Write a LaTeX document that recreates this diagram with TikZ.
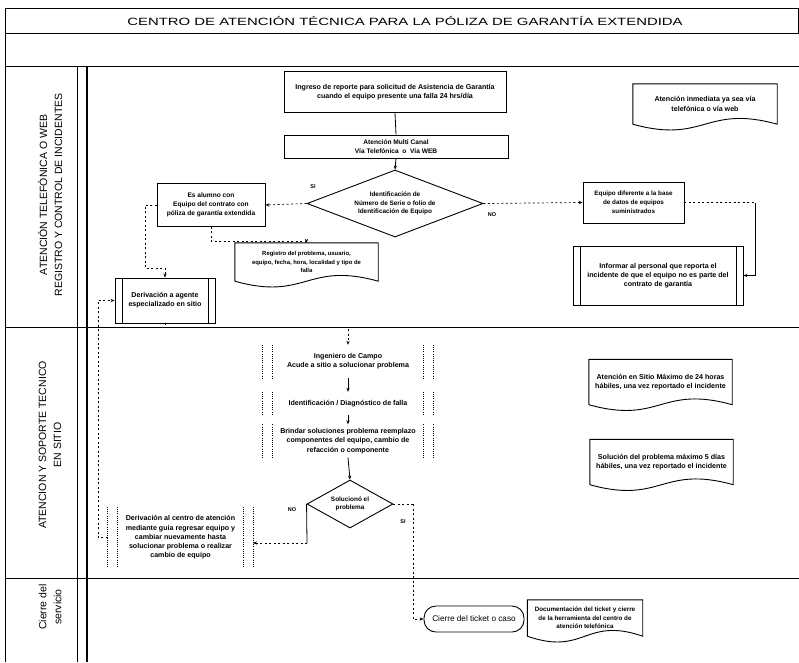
\documentclass[tikz,border=0pt]{standalone}
\usepackage{fontspec}
\setmainfont{Liberation Sans}
\usetikzlibrary{shapes.geometric,calc,arrows.meta}

\tikzset{
  boxline/.style={line width=0.9pt},
  procbox/.style={draw, boxline, rectangle, inner sep=1pt, align=center, font=\smalltxt},
  plain/.style={rectangle, inner sep=1pt, align=center, font=\smalltxt},
  decision/.style={draw, boxline, diamond, inner sep=0pt, align=center, font=\fontsize{6.4}{8.6}\selectfont\bfseries},
  terminal/.style={draw, boxline, rectangle, rounded corners=12pt, inner sep=1pt, align=center, font=\fontsize{8.2}{10}\selectfont},
  lanelabel/.style={rotate=90, align=center, font=\fontsize{10.5}{15}\selectfont},
  yesno/.style={font=\fontsize{5.5}{6}\selectfont\bfseries, inner sep=0pt},
  conn/.style={line width=0.8pt},
  dotconn/.style={line width=0.7pt, dash pattern=on 2pt off 2.5pt},
  sidedots/.style={line width=0.7pt, dash pattern=on 1pt off 1.2pt},
  arr/.style={-{Stealth[length=4pt,width=3.2pt]}},
  laneline/.style={line width=0.8pt},
}
\newcommand\smalltxt{\fontsize{7.1}{9.2}\selectfont\bfseries}
\newcommand\docwave[1]{\draw[boxline] (#1.south west) -- (#1.north west) -- (#1.north east) -- (#1.south east) .. controls ($(#1.south)+(0,-20)$) and ($(#1.south)+(0,20)$) .. (#1.south west);}
\newcommand\predef[1]{\draw[boxline] ($(#1.north west)+(8,0)$) -- ($(#1.south west)+(8,0)$); \draw[boxline] ($(#1.north east)+(-7,0)$) -- ($(#1.south east)+(-7,0)$);}
\newcommand\sideonly[1]{\draw[sidedots] (#1.north west) -- (#1.south west); \draw[sidedots] ($(#1.north west)+(10,0)$) -- ($(#1.south west)+(10,0)$); \draw[sidedots] (#1.north east) -- (#1.south east); \draw[sidedots] ($(#1.north east)+(-10,0)$) -- ($(#1.south east)+(-10,0)$);}

\begin{document}
\begin{tikzpicture}[x=1pt,y=-1pt]
\useasboundingbox (0,0) rectangle (799,662);

% frame and lanes
\draw[laneline] (5,8) rectangle (798,33);
\node (title) at (405,20.5) {\fontsize{10.5}{12}\selectfont\scalebox{1.42}[1]{CENTRO DE ATENCIÓN TÉCNICA PARA LA PÓLIZA DE GARANTÍA EXTENDIDA}};
\draw[laneline] (5,33) -- (5,662);
\draw[laneline] (5,66) -- (799,66);
\draw[laneline] (5,327) -- (799,327);
\draw[laneline] (5,578) -- (799,578);
\draw[laneline] (77,66) -- (77,662);
\draw[line width=1.1pt] (87,66) -- (87,662);

\node[lanelabel] (l1) at (50,195) {ATENCIÓN TELEFÓNICA O WEB\\REGISTRO Y CONTROL DE INCIDENTES};
\node[lanelabel] (l2) at (50,445) {ATENCION Y SOPORTE TECNICO\\EN SITIO};
\node[lanelabel] (l3) at (50,607) {Cierre del\\servicio};

% lane 1
\node[procbox, minimum width=222pt, minimum height=41pt] (n1) at (395,92)
  {Ingreso de reporte para solicitud de Asistencia de Garantía\\cuando el equipo presente una falla 24 hrs/día};
\node[procbox, minimum width=224pt, minimum height=23pt, font=\fontsize{6.6}{8.4}\selectfont\bfseries] (n2) at (396,146.5)
  {Atención Multi Canal\\Vía Telefónica \ o \ Vía WEB};
\node[decision, minimum width=176pt, minimum height=67pt, aspect=2.6] (d1) at (395,203.5)
  {Identificación de\\Número de Serie o folio de\\Identificación de Equipo};
\node[yesno] (si1) at (313,187) {SI};
\node[yesno] (no1) at (492,215) {NO};

\node[procbox, minimum width=108pt, minimum height=43pt, font=\fontsize{6.6}{9.2}\selectfont\bfseries] (esal) at (211,205)
  {Es alumno con\\Equipo del contrato con\\póliza de garantía extendida};
\node[plain, minimum width=143pt, minimum height=38pt, font=\fontsize{5.9}{8.8}\selectfont\bfseries] (reg) at (306.5,262)
  {Registro del problema, usuario,\\equipo, fecha, hora, localidad y tipo de\\falla};
\docwave{reg}
\node[procbox, minimum width=100pt, minimum height=45pt] (dage) at (165,300.5)
  {Derivación a agente\\especializado en sitio};
\predef{dage}

\node[procbox, minimum width=101pt, minimum height=41pt, font=\fontsize{6.3}{9}\selectfont\bfseries] (eqd) at (633.5,202.5)
  {Equipo diferente a la base\\de datos de equipos\\suministrados};
\node[procbox, minimum width=170pt, minimum height=59pt] (inf) at (658,275.5)
  {Informar al personal que reporta el\\incidente de que el equipo no es parte del\\contrato de garantía};
\predef{inf}
\node[plain, minimum width=144pt, minimum height=40pt] (aten) at (705,104)
  {Atención inmediata ya sea vía\\telefónica o vía web};
\docwave{aten}

% lane 2
\node[plain, minimum width=170pt, minimum height=33pt] (ing) at (348,361.5)
  {Ingeniero de Campo\\Acude a sitio a solucionar problema};
\sideonly{ing}
\node[plain, minimum width=170pt, minimum height=23pt] (idn) at (348,403.5)
  {Identificación / Diagnóstico de falla};
\sideonly{idn}
\node[plain, minimum width=170pt, minimum height=33pt] (brd) at (348,441)
  {Brindar soluciones problema reemplazo\\componentes del equipo, cambio de\\refacción o componente};
\sideonly{brd}
\node[decision, minimum width=86pt, minimum height=48pt, aspect=1.8] (d2) at (350,504)
  {Solucionó el\\problema};
\node[yesno] (no2) at (292,510) {NO};
\node[yesno] (si2) at (403,522) {SI};
\node[plain, minimum width=145pt, minimum height=61pt] (dcen) at (180.5,537.5)
  {Derivación al centro de atención\\mediante guía regresar equipo y\\cambiar nuevamente hasta\\solucionar problema o realizar\\cambio de equipo};
\sideonly{dcen}
\node[plain, minimum width=143pt, minimum height=45pt] (s24) at (660.5,382)
  {Atención en Sitio Máximo de 24 horas\\hábiles, una vez reportado el incidente};
\docwave{s24}
\node[plain, minimum width=143pt, minimum height=45pt] (s5) at (661.5,462)
  {Solución del problema máximo 5 días\\hábiles, una vez reportado el incidente};
\docwave{s5}

% lane 3
\node[terminal, minimum width=100pt, minimum height=26pt] (cie) at (474,619) {Cierre del ticket o caso};
\node[plain, minimum width=115pt, minimum height=36pt, font=\fontsize{6.3}{8.6}\selectfont\bfseries] (doc) at (585,618)
  {Documentación del ticket y cierre\\de la herramienta del centro de\\atención telefónica};
\docwave{doc}

% connectors lane 1
\draw[conn] (n1.south) -- (n2.north);
\draw[conn, arr] (n2.south) -- (d1.north);
\draw[dotconn, arr] (d1.west) -- (esal.east);
\draw[dotconn, arr] (d1.east) -- (eqd.west);
\draw[dotconn] (eqd.east) -- (755,202.5);
\draw[conn, arr] (755,202.5) -- (755,275.5) -- (inf.east);
\draw[dotconn, arr] (esal.south) -- (211,241) -- (306.5,241) -- (reg.north);
\draw[dotconn, arr] (esal.west) -- (145,205) -- (145,268) -- (165,268) -- (dage.north);
\draw[dotconn, arr] (dage.south) -- (165,327) -- (348,327) -- (ing.north);

% connectors lane 2
\draw[conn, arr] (ing.south) -- (idn.north);
\draw[conn, arr] (idn.south) -- (brd.north);
\draw[conn, arr] (brd.south) -- (d2.north);
\draw[conn] (d2.west) -- (307,543);
\draw[dotconn, arr] (307,543) -- (253,543);
\draw[dotconn, arr] (dcen.west) -- (98,537.5) -- (98,300.5) -- (dage.west);
\draw[dotconn] (d2.east) -- (413,504);
\draw[dotconn, arr] (413,504) -- (413,619) -- (cie.west);

\end{tikzpicture}
\end{document}
